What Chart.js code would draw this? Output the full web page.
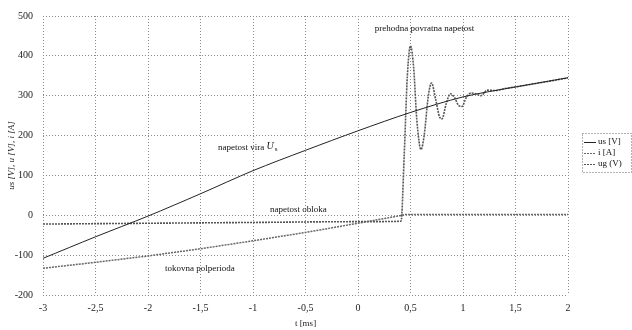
<!DOCTYPE html>
<html>
<head>
<meta charset="utf-8">
<script src="https://cdn.jsdelivr.net/npm/chart.js@4.4.1/dist/chart.umd.min.js"></script>
<style>
  html, body { margin: 0; padding: 0; background: #fff; }
  #wrap { width: 632px; height: 330px; }
</style>
</head>
<body>
<div id="wrap"><canvas id="myChart"></canvas></div>
<script>
// t [ms] and values
const usT = [-3, -2.5, -2, -1.5, -1, -0.5, 0, 0.5, 1, 1.5, 2];
const usV = [-108, -54, -2, 54, 112, 163, 212, 258, 297, 322, 345];

const iT = [-3, -2.5, -2, -1.5, -1, -0.5, 0, 0.42, 0.45, 1, 1.5, 2];
const iV = [-133, -118, -102, -84, -64, -43, -20, 0, 2, 2, 2, 2];

const ugT = [-3, -2, -1, 0, 0.41, 0.44, 0.47, 0.5, 0.53, 0.56, 0.6, 0.63, 0.67, 0.7, 0.74, 0.78, 0.8,
             0.84, 0.88, 0.92, 0.96, 0.99, 1.03, 1.08, 1.13, 1.17, 1.23, 1.3, 1.4, 1.5, 1.75, 2];
const ugV = [-22, -20, -18, -16, -15, 150, 350, 425, 370, 240, 165, 200, 300, 332, 290, 245, 242,
             280, 305, 295, 275, 273, 295, 307, 304, 300, 314, 313, 318, 322, 333, 345];

const xTicks = [-3, -2.5, -2, -1.5, -1, -0.5, 0, 0.5, 1, 1.5, 2];
const legendNames = ["us [V]", "i [A]", "ug (V)"];

const notes = [
  { text: "prehodna povratna napetost", t: 0.16, v: 468 },
  { text: "napetost vira ", t: -1.333, v: 170, sub: true },
  { text: "napetost obloka", t: -0.838, v: 13 },
  { text: "tokovna polperioda", t: -1.838, v: -135 }
];

const serif = "'Liberation Serif', 'Times New Roman', serif";
const toPoints = (ts, vs) => ts.map((t, k) => ({ x: t, y: vs[k] }));

const notesPlugin = {
  id: "notes",
  afterDatasetsDraw(chart) {
    const ctx = chart.ctx;
    const xs = chart.scales.x, ys = chart.scales.y;
    ctx.save();
    ctx.fillStyle = "#111";
    ctx.textBaseline = "middle";
    ctx.textAlign = "left";
    notes.forEach(n => {
      const px = xs.getPixelForValue(n.t);
      const py = ys.getPixelForValue(n.v);
      ctx.font = "9px " + serif;
      ctx.fillText(n.text, px, py);
      if (n.sub) {
        const w = ctx.measureText(n.text).width;
        ctx.font = "italic 10px " + serif;
        ctx.fillText("U", px + w, py - 1);
        const w2 = ctx.measureText("U").width;
        ctx.font = "7px " + serif;
        ctx.fillText("s", px + w + w2 + 1, py + 2);
      }
    });
    ctx.restore();
  },
  afterDraw(chart) {
    // legend box on the right
    const ctx = chart.ctx;
    const ds = chart.data.datasets;
    ctx.save();
    ctx.strokeStyle = "#666";
    ctx.lineWidth = 1;
    ctx.setLineDash([1, 2]);
    ctx.strokeRect(582.5, 133.5, 49, 39);
    ctx.font = "9px " + serif;
    ctx.fillStyle = "#111";
    ctx.textBaseline = "middle";
    legendNames.forEach((name, k) => {
      const y = 142 + k * 11;
      ctx.strokeStyle = ds[k].borderColor;
      ctx.lineWidth = 1;
      ctx.setLineDash(ds[k].borderDash || []);
      ctx.beginPath();
      ctx.moveTo(584, y + 0.5);
      ctx.lineTo(596, y + 0.5);
      ctx.stroke();
      ctx.fillText(name, 598, y);
    });
    ctx.restore();
  }
};

const ctx = document.getElementById("myChart").getContext("2d");
new Chart(ctx, {
  type: "line",
  data: {
    datasets: [
      { label: legendNames[0], data: toPoints(usT, usV), borderColor: "#222", borderWidth: 1,
        pointRadius: 0, tension: 0.3, fill: false },
      { label: legendNames[1], data: toPoints(iT, iV), borderColor: "#666", borderWidth: 1.5,
        borderDash: [2, 1], pointRadius: 0, tension: 0, fill: false },
      { label: legendNames[2], data: toPoints(ugT, ugV), borderColor: "#555", borderWidth: 1.6,
        borderDash: [2, 1], pointRadius: 0, cubicInterpolationMode: "monotone", fill: false }
    ]
  },
  options: {
    responsive: true,
    maintainAspectRatio: false,
    animation: false,
    layout: { padding: { top: 13, right: 64, left: 0, bottom: 0 } },
    plugins: { legend: { display: false }, tooltip: { enabled: false } },
    scales: {
      x: {
        type: "linear", min: -3, max: 2,
        afterFit: s => { s.height = 35; },
        afterBuildTicks: s => { s.ticks = xTicks.map(v => ({ value: v })); },
        grid: { color: "#8a8a8a", drawTicks: false },
        border: { display: false, dash: [1, 2] },
        ticks: { padding: 7, color: "#222", font: { family: serif, size: 10 },
                 callback: v => String(v).replace(".", ",") },
        title: { display: true, text: "t [ms]", color: "#222", padding: { top: 0, bottom: 1 },
                 font: { family: serif, size: 9 } }
      },
      y: {
        min: -200, max: 500,
        afterFit: s => { s.width = 43; },
        grid: { color: "#8a8a8a", drawTicks: false },
        border: { display: false, dash: [1, 2] },
        ticks: { stepSize: 100, padding: 10, color: "#222", font: { family: serif, size: 10 } },
        title: { display: true, text: "us [V], u [V], i [A]", color: "#222", padding: { top: 6, bottom: 0 },
                 font: { family: serif, size: 9, style: "italic" } }
      }
    }
  },
  plugins: [notesPlugin]
});
</script>
</body>
</html>
